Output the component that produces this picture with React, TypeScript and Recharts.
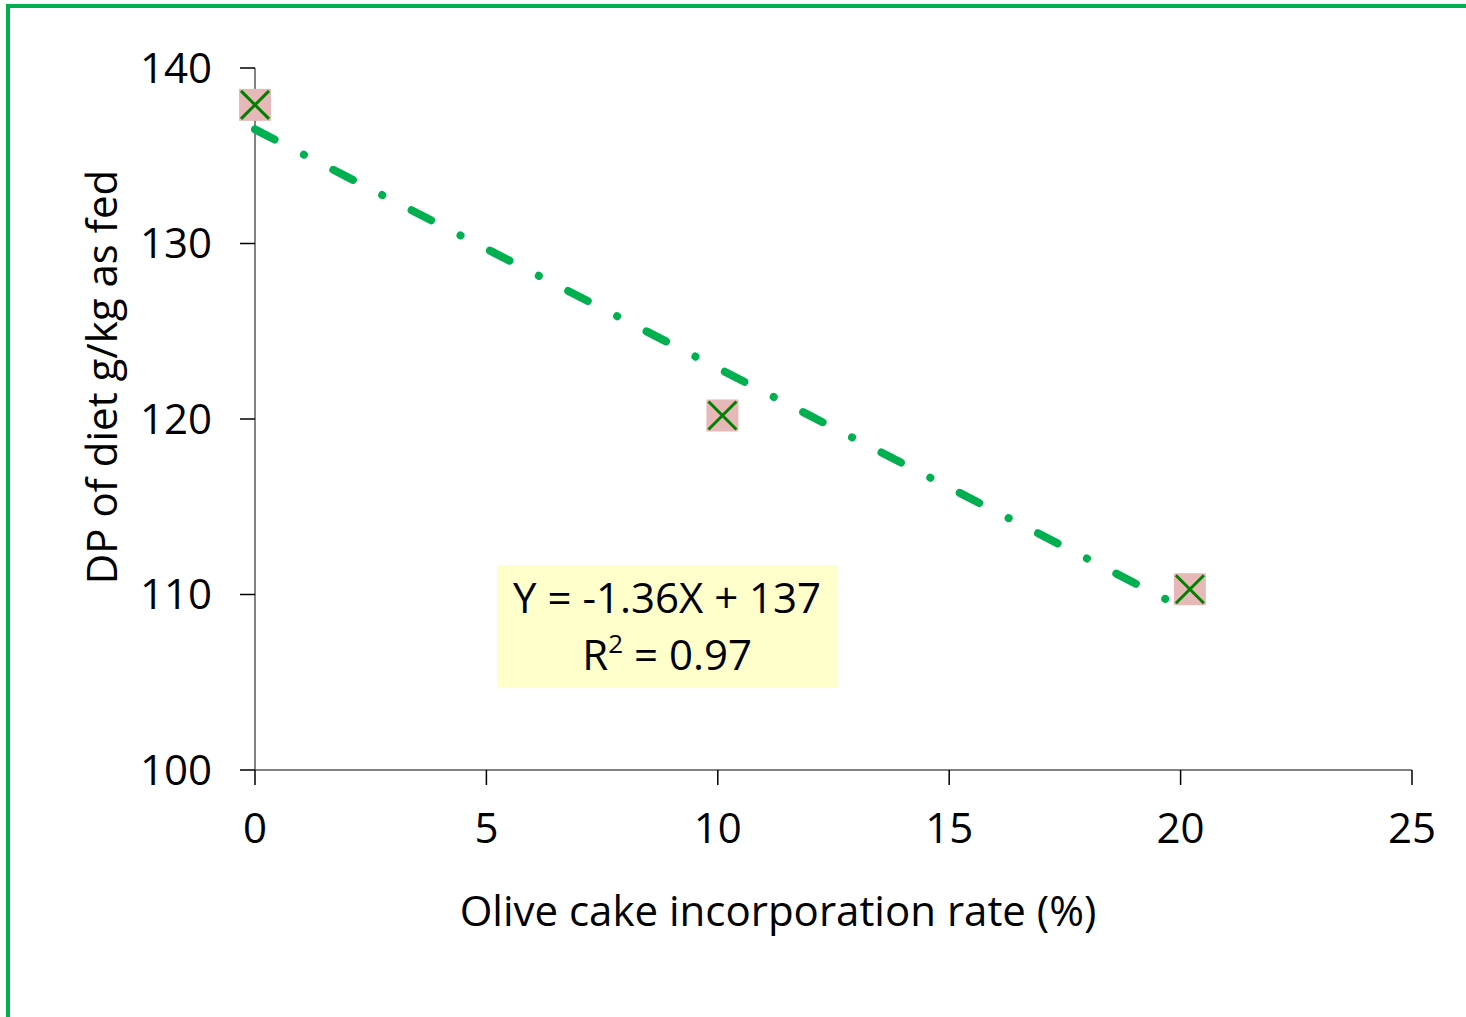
import React from 'react';
import { ScatterChart, Scatter, XAxis, YAxis, ReferenceArea } from 'recharts';

// olive cake rate (%) vs DP of diet (g/kg as fed)
const rateValues = [0, 10.1, 20.2];
const dpValues = [137.9, 120.2, 110.3];

// fitted line as drawn in the figure
const trendRate = [0, 19.75];
const trendDp = [136.5, 109.64];

const xTicks = [0, 5, 10, 15, 20, 25];
const yTicks = [100, 110, 120, 130, 140];

const equationText = 'Y = -1.36X + 137';
const r2Text = '0.97';

const FONT = '"Open Sans", sans-serif';
const GREEN = '#00b050';

const points = rateValues.map((x, i) => ({ x, y: dpValues[i] }));
const trend = trendRate.map((x, i) => ({ x, y: trendDp[i] }));

function CrossMarker(props: any) {
    const { cx, cy } = props;
    const h = 16;
    return (
        <g>
            <rect x={cx - h} y={cy - h} width={h * 2} height={h * 2} fill="#e6b9b8" />
            <line x1={cx - h + 2} y1={cy - h + 2} x2={cx + h - 2} y2={cy + h - 2} stroke="#008000" strokeWidth={3} />
            <line x1={cx - h + 2} y1={cy + h - 2} x2={cx + h - 2} y2={cy - h + 2} stroke="#008000" strokeWidth={3} />
        </g>
    );
}

function EquationLabel(props: any) {
    const { x, y, width } = props.viewBox;
    const mid = x + width / 2;
    return (
        <text fontFamily={FONT} fontSize={42} fill="#000" textAnchor="middle">
            <tspan x={mid} y={y + 48}>{equationText}</tspan>
            <tspan x={mid} y={y + 105}>
                R<tspan dy={-17} fontSize={26}>2</tspan>
                <tspan dy={17}>{' = ' + r2Text}</tspan>
            </tspan>
        </text>
    );
}

function XTitle() {
    return (
        <text x={778} y={926} textAnchor="middle" fontFamily={FONT} fontSize={42} fill="#000">
            Olive cake incorporation rate (%)
        </text>
    );
}

function YTitle() {
    return (
        <text x={117} y={377} textAnchor="middle" fontFamily={FONT} fontSize={42} fill="#000" transform="rotate(-90, 117, 377)">
            DP of diet g/kg as fed
        </text>
    );
}

export default function App() {
    return (
        <div style={{ position: 'absolute', left: 0, top: 0, width: 1466, height: 1017, background: '#fff', overflow: 'hidden' }}>
            <div
                style={{
                    position: 'absolute',
                    left: 6,
                    top: 4,
                    width: 1460,
                    height: 1013,
                    borderLeft: `4px solid ${GREEN}`,
                    borderTop: `4px solid ${GREEN}`,
                    boxSizing: 'border-box',
                }}
            />
            <ScatterChart
                width={1466}
                height={1017}
                margin={{ top: 68, right: 54, bottom: 107, left: 105 }}
                style={{ position: 'absolute', left: 0, top: 0 }}
            >
                <XAxis
                    type="number"
                    dataKey="x"
                    domain={[0, 25]}
                    ticks={xTicks}
                    height={140}
                    tickSize={15}
                    tickMargin={28}
                    axisLine={{ stroke: '#595959', strokeWidth: 1.5 }}
                    tickLine={{ stroke: '#000', strokeWidth: 1.5 }}
                    tick={{ fill: '#000', fontSize: 42, fontFamily: FONT }}
                    label={<XTitle />}
                />
                <YAxis
                    type="number"
                    dataKey="y"
                    domain={[100, 140]}
                    ticks={yTicks}
                    width={150}
                    tickSize={15}
                    tickMargin={28}
                    axisLine={{ stroke: '#595959', strokeWidth: 1.5 }}
                    tickLine={{ stroke: '#000', strokeWidth: 1.5 }}
                    tick={{ fill: '#000', fontSize: 42, fontFamily: FONT }}
                    label={<YTitle />}
                />
                <ReferenceArea
                    x1={5.23}
                    x2={12.58}
                    y1={104.73}
                    y2={111.68}
                    fill="#ffffcc"
                    fillOpacity={1}
                    stroke="none"
                    label={<EquationLabel />}
                />
                <Scatter
                    data={trend}
                    line={{ stroke: GREEN, strokeWidth: 8, strokeDasharray: '22 33 0.1 33', strokeLinecap: 'round' }}
                    shape={() => <g />}
                    isAnimationActive={false}
                />
                <Scatter data={points} shape={<CrossMarker />} isAnimationActive={false} />
            </ScatterChart>
        </div>
    );
}
